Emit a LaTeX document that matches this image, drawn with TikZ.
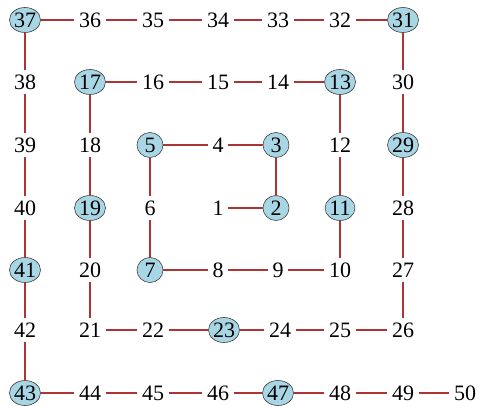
\documentclass[tikz,border=0pt]{standalone}
\usepackage{fontspec}
\setmainfont{Liberation Serif}
\usetikzlibrary{shapes.geometric}
\definecolor{primeblue}{RGB}{168,214,228}
\definecolor{linkred}{RGB}{172,52,52}
\begin{document}
\begin{tikzpicture}[x=1pt,y=-1pt,
  num/.style={font=\fontsize{22}{22}\selectfont, inner sep=4.5pt},
  pr/.style={ellipse, draw=black!75, line width=0.6pt, fill=primeblue,
    font=\fontsize{22}{22}\selectfont, inner sep=0pt, outer sep=0pt,
    minimum width=26pt, minimum height=25pt},
  link/.style={draw=linkred, line width=1.8pt}]
\useasboundingbox (0,0) rectangle (479,405);
\foreach \n/\x/\y/\s in {
  37/25/20/pr, 36/90/20/num, 35/153/20/num, 34/218/20/num, 33/278/20/num, 32/340/20/num, 31/403/20/pr,
  38/25/82/num, 17/90/82/pr, 16/153/82/num, 15/218/82/num, 14/278/82/num, 13/340/82/pr, 30/403/82/num,
  39/25/145/num, 18/90/145/num, 5/150/145/pr, 4/218/145/num, 3/276/145/pr, 12/340/145/num, 29/403/145/pr,
  40/25/208/num, 19/90/208/pr, 6/150/208/num, 1/218/208/num, 2/276/208/pr, 11/340/208/pr, 28/403/208/num,
  41/25/270/pr, 20/90/270/num, 7/150/270/pr, 8/218/270/num, 9/278/270/num, 10/340/270/num, 27/403/270/num,
  42/25/330/num, 21/90/330/num, 22/153/330/num, 23/224/330/pr, 24/280/330/num, 25/340/330/num, 26/403/330/num,
  43/25/393/pr, 44/90/393/num, 45/153/393/num, 46/218/393/num, 47/278/393/pr, 48/340/393/num, 49/403/393/num, 50/465/393/num}
  \node[\s] (n\n) at (\x,\y) {\n};
\foreach \a [count=\b from 2] in {1,...,49}
  \draw[link] (n\a) -- (n\b);
\end{tikzpicture}
\end{document}
